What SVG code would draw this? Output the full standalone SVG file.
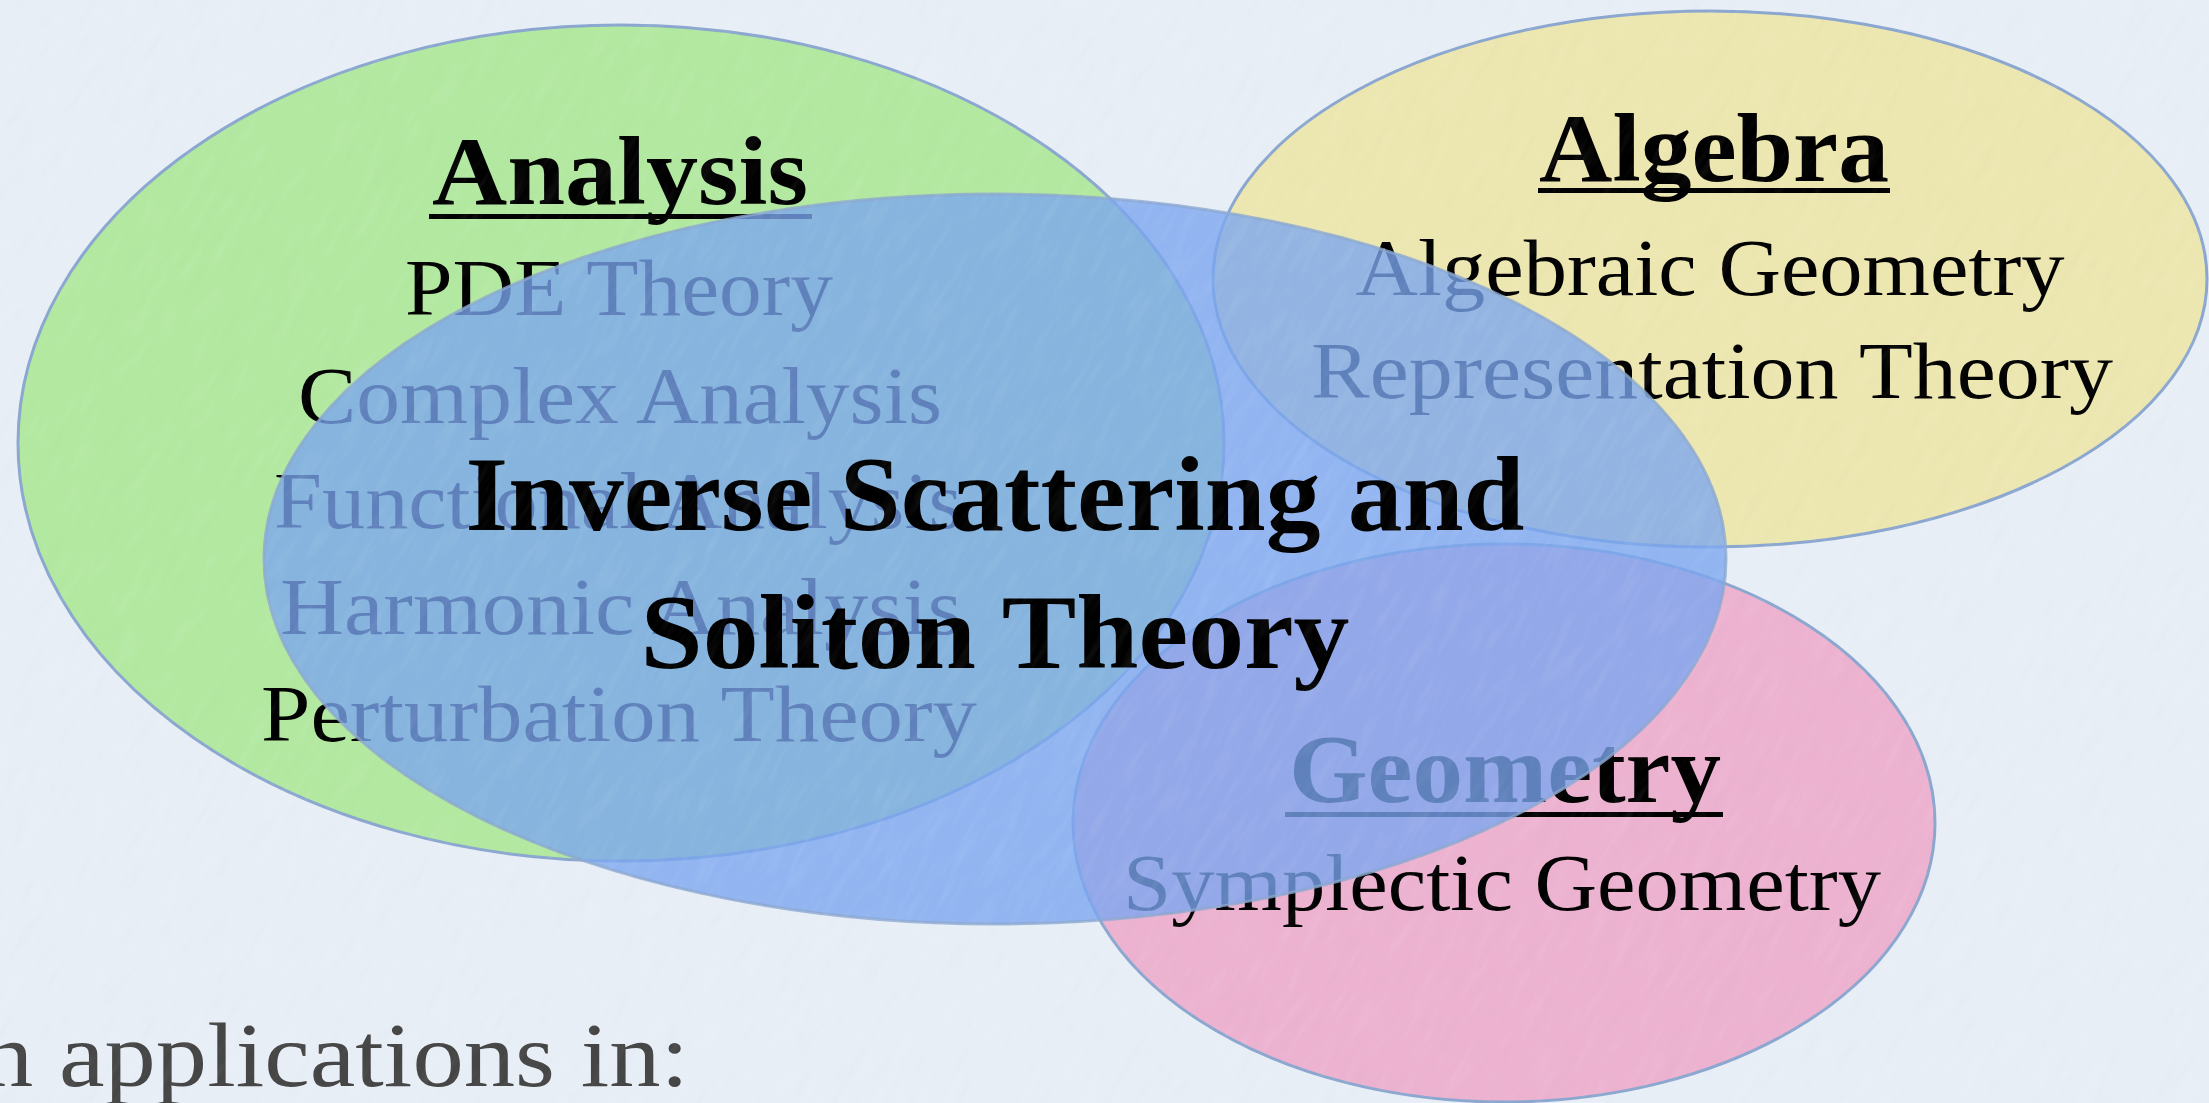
<svg xmlns="http://www.w3.org/2000/svg" width="2209" height="1103" viewBox="0 0 2209 1103">
  <defs>
    <!-- soft paper grain laid over the whole slide -->
    <filter id="grain" x="-1300" y="-1300" width="2600" height="2600" filterUnits="userSpaceOnUse">
      <feTurbulence type="fractalNoise" baseFrequency="0.02 0.11" numOctaves="4" seed="7" result="n"/>
      <feColorMatrix in="n" type="matrix" values="0 0 0 0 1  0 0 0 0 1  0 0 0 0 1  1.6 0 0 0 -0.72" result="light"/>
      <feColorMatrix in="n" type="matrix" values="0 0 0 0 0.45  0 0 0 0 0.5  0 0 0 0 0.6  -1.4 0 0 0 0.58" result="dark"/>
      <feMerge>
        <feMergeNode in="light"/>
        <feMergeNode in="dark"/>
      </feMerge>
    </filter>
    <style>
      .field { stroke: #8ba7cf; stroke-width: 3; }
      .title { font-family: "Liberation Serif", "Times New Roman", serif; font-weight: bold; font-size: 98px; fill: #000; text-anchor: middle; }
      .item  { font-family: "Liberation Serif", "Times New Roman", serif; font-size: 81px; fill: #000; text-anchor: middle; }
      .core  { font-family: "Liberation Serif", "Times New Roman", serif; font-weight: bold; font-size: 105px; fill: #000; text-anchor: middle; }
      .rule  { fill: #000; }
      .note  { font-family: "Liberation Serif", "Times New Roman", serif; font-size: 92px; fill: #454545; }
    </style>
  </defs>

  <!-- background -->
  <rect x="0" y="0" width="2209" height="1103" fill="#e8eef6"/>

  <!-- Analysis -->
  <g id="analysis">
    <ellipse class="field" cx="621" cy="443" rx="603" ry="418" fill="#b2e8a0"/>
    <text class="title" x="620" y="204" textLength="376" lengthAdjust="spacingAndGlyphs">Analysis</text>
    <rect class="rule" x="429" y="214" width="383" height="5"/>
    <text class="item" x="619" y="315" textLength="428" lengthAdjust="spacingAndGlyphs">PDE Theory</text>
    <text class="item" x="620" y="423" textLength="644" lengthAdjust="spacingAndGlyphs">Complex Analysis</text>
    <text class="item" x="618" y="528" textLength="688" lengthAdjust="spacingAndGlyphs">Functional Analysis</text>
    <text class="item" x="621" y="634" textLength="682" lengthAdjust="spacingAndGlyphs">Harmonic Analysis</text>
    <text class="item" x="619" y="741" textLength="716" lengthAdjust="spacingAndGlyphs">Perturbation Theory</text>
  </g>

  <!-- Algebra -->
  <g id="algebra">
    <ellipse class="field" cx="1710" cy="279" rx="497" ry="268" fill="#ece6b0"/>
    <text class="title" x="1714" y="181" font-size="96" textLength="350" lengthAdjust="spacingAndGlyphs">Algebra</text>
    <rect class="rule" x="1538" y="188" width="352" height="5"/>
    <text class="item" x="1710" y="295" textLength="709" lengthAdjust="spacingAndGlyphs">Algebraic Geometry</text>
    <text class="item" x="1712" y="398" textLength="802" lengthAdjust="spacingAndGlyphs">Representation Theory</text>
  </g>

  <!-- Geometry -->
  <g id="geometry">
    <ellipse class="field" cx="1504" cy="823" rx="431" ry="279" fill="#ecb2d0"/>
    <text class="title" x="1505" y="802" font-size="96" textLength="432" lengthAdjust="spacingAndGlyphs">Geometry</text>
    <rect class="rule" x="1285" y="812" width="438" height="5"/>
    <text class="item" x="1502" y="910" textLength="758" lengthAdjust="spacingAndGlyphs">Symplectic Geometry</text>
  </g>

  <!-- Inverse Scattering and Soliton Theory, translucent over the others -->
  <g id="inverse-scattering">
    <ellipse class="field" cx="995" cy="559" rx="731" ry="365" fill="rgb(122,165,239)" fill-opacity="0.78" stroke-opacity="0.8"/>
    <text class="core" x="995" y="530" textLength="1059" lengthAdjust="spacingAndGlyphs">Inverse Scattering and</text>
    <text class="core" x="995" y="668" textLength="709" lengthAdjust="spacingAndGlyphs">Soliton Theory</text>
  </g>

  <!-- connectors: none in this figure -->
  <g id="connectors"/>

  <!-- slide body text -->
  <text class="note" x="-18" y="1086" textLength="707" lengthAdjust="spacingAndGlyphs">n applications in:</text>

  <!-- paper grain, streaks running up to the right -->
  <g transform="translate(1104 551) rotate(-60)" opacity="0.1" pointer-events="none">
    <rect x="-1300" y="-1300" width="2600" height="2600" filter="url(#grain)"/>
  </g>
</svg>
